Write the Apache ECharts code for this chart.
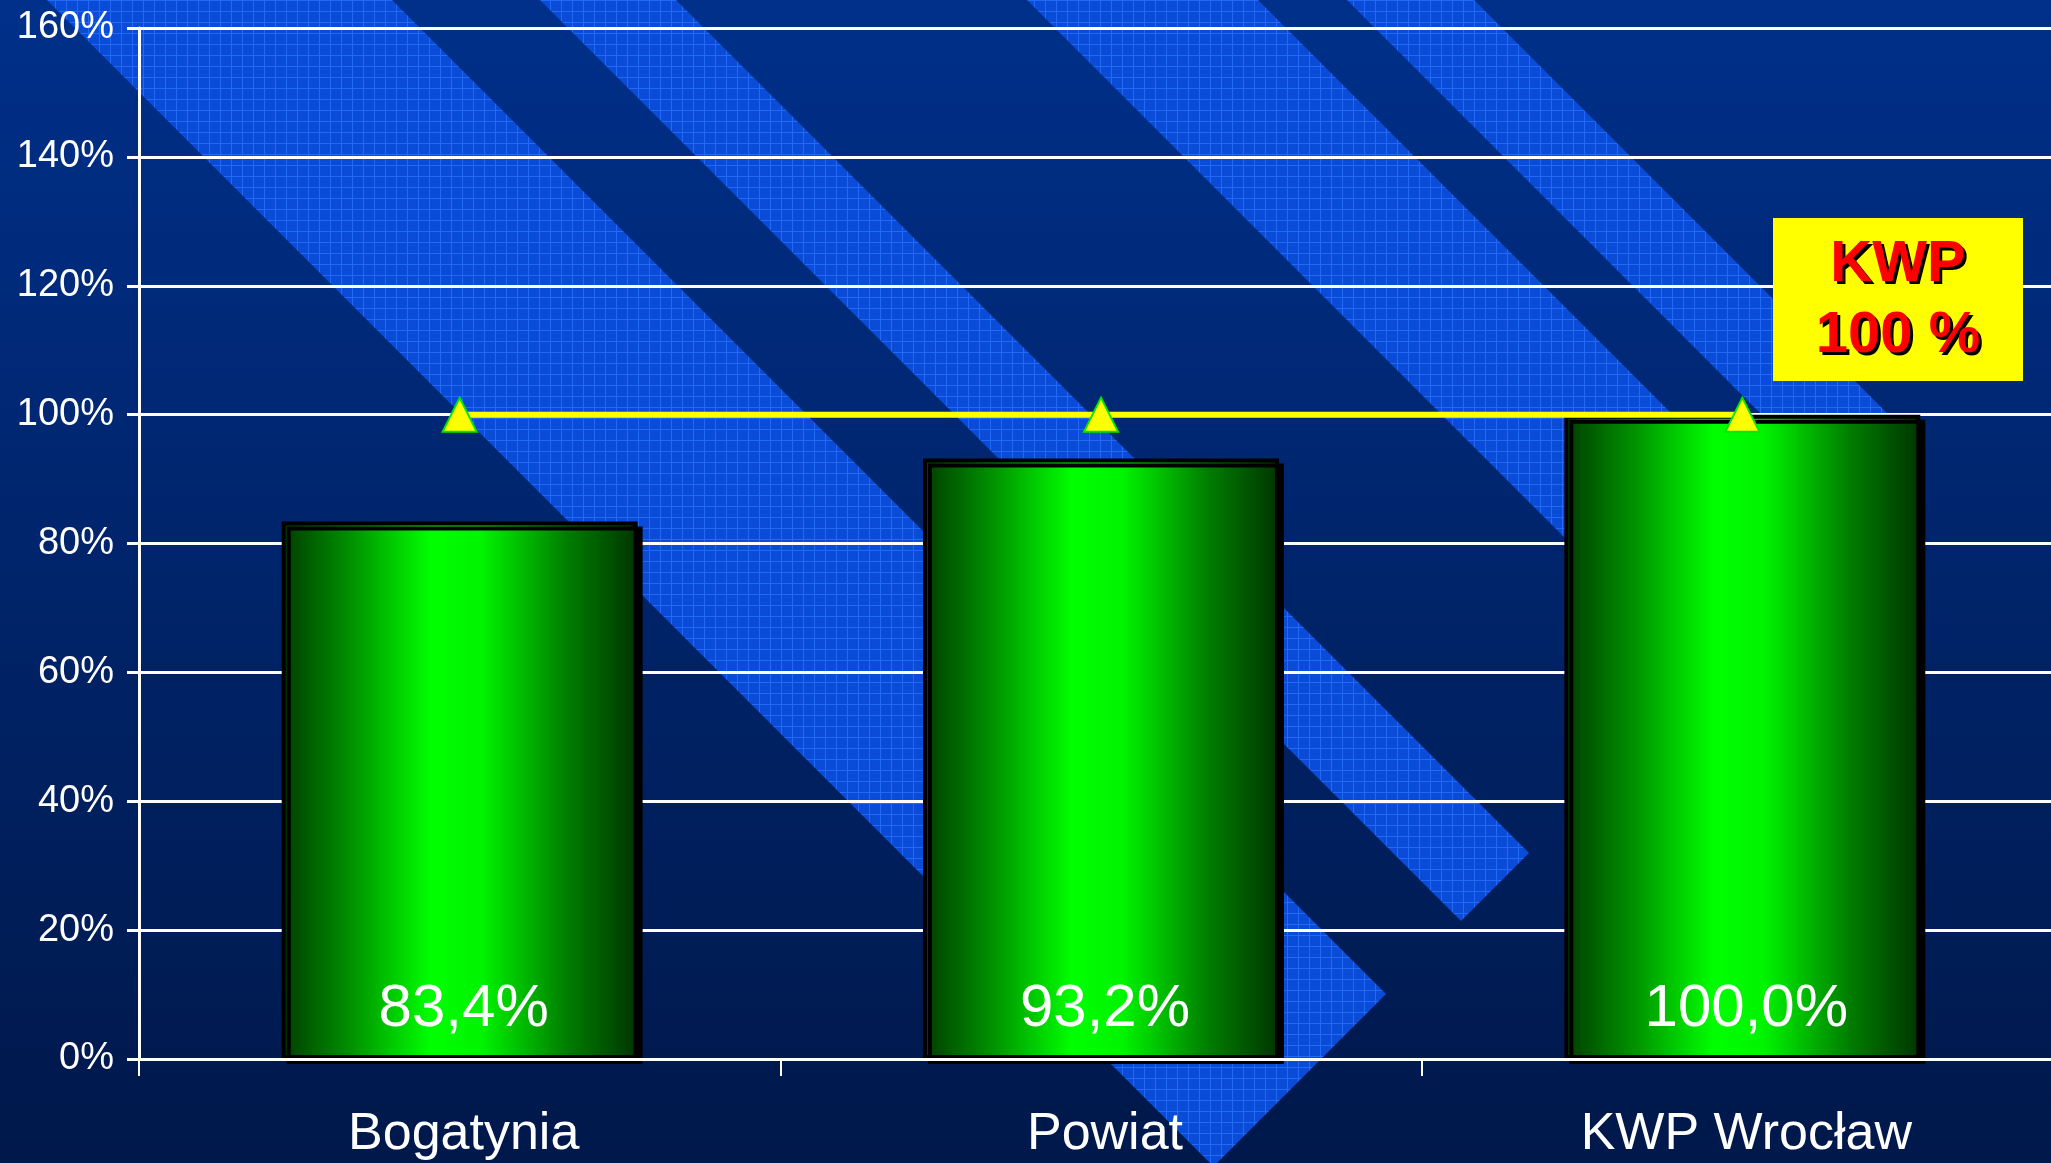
<!DOCTYPE html>
<html>
<head>
<meta charset="utf-8">
<script src="https://cdn.jsdelivr.net/npm/echarts@6/dist/echarts.min.js"></script>
<style>
html,body{margin:0;padding:0;background:#001a4e;}
#chart{width:2051px;height:1163px;}
</style>
</head>
<body>
<div id="chart"></div>
<script>
// ---- data ----
const categories = ['Bogatynia', 'Powiat', 'KWP Wrocław'];
const barValues = [83.4, 93.2, 100.0];
const targetValues = [100, 100, 100];
const yMin = 0, yMax = 160, yStep = 20;
const noteLines = ['KWP', '100 %'];

const FONT = '"Liberation Sans", Arial, sans-serif';

function makePattern() {
  const c = document.createElement('canvas');
  c.width = 11; c.height = 11;
  const g = c.getContext('2d');
  g.fillStyle = '#0a4cd8';
  g.fillRect(0, 0, 11, 11);
  g.fillStyle = '#2169f6';
  g.fillRect(0, 0, 11, 1);
  g.fillRect(0, 0, 1, 11);
  return c;
}
const pat = makePattern();

// decorative diagonal bands (45 deg): left edge x-y=a, right edge x-y=b, end cut x+y=c
const bands = [[47, 392, 2380], [540, 676, 2382], [1027, 1258, 2380], [1347, 1474, 2330]];
const bandEls = bands.map(function (abc) {
  const a = abc[0], b = abc[1], c = abc[2];
  return {
    type: 'polygon', silent: true, z: 1,
    shape: { points: [[a, 0], [b, 0], [(c + b) / 2, (c - b) / 2], [(c + a) / 2, (c - a) / 2]] },
    style: { fill: { image: pat, repeat: 'repeat' } }
  };
});

const chart = echarts.init(document.getElementById('chart'), null, { renderer: 'canvas' });

const option = {
  animation: false,
  textStyle: { fontFamily: FONT },
  graphic: [
    {
      type: 'rect', silent: true, z: 0,
      shape: { x: 0, y: 0, width: 2051, height: 1163 },
      style: {
        fill: new echarts.graphic.LinearGradient(0, 0, 0, 1, [
          { offset: 0, color: '#00308a' },
          { offset: 1, color: '#00184a' }
        ])
      }
    }
  ].concat(bandEls).concat([
    {
      type: 'rect', silent: true, z: 10,
      shape: { x: 1773, y: 218, width: 250, height: 163 },
      style: { fill: '#ffff00' }
    },
    { type: 'text', silent: true, z: 11, x: 1901, y: 268,
      style: { text: noteLines[0], fill: '#000000', font: 'bold 58px ' + FONT, align: 'center', verticalAlign: 'middle' } },
    { type: 'text', silent: true, z: 12, x: 1898, y: 265,
      style: { text: noteLines[0], fill: '#ff0000', font: 'bold 58px ' + FONT, align: 'center', verticalAlign: 'middle' } },
    { type: 'text', silent: true, z: 11, x: 1901, y: 339,
      style: { text: noteLines[1], fill: '#000000', font: 'bold 58px ' + FONT, align: 'center', verticalAlign: 'middle' } },
    { type: 'text', silent: true, z: 12, x: 1898, y: 336,
      style: { text: noteLines[1], fill: '#ff0000', font: 'bold 58px ' + FONT, align: 'center', verticalAlign: 'middle' } }
  ]),
  grid: { left: 139, top: 28, bottom: 104, width: 1924, containLabel: false, outerBoundsMode: 'none' },
  xAxis: {
    type: 'category',
    data: categories,
    z: 5,
    boundaryGap: true,
    axisLine: { show: true, lineStyle: { color: '#ffffff', width: 3 } },
    axisTick: { show: true, length: 17, lineStyle: { color: '#ffffff', width: 2 } },
    axisLabel: { color: '#ffffff', fontSize: 52, fontFamily: FONT, margin: 50, padding: [0, 0, 0, 8] },
    splitLine: { show: false }
  },
  yAxis: {
    type: 'value',
    min: yMin, max: yMax, interval: yStep,
    z: 2,
    axisLine: { show: true, lineStyle: { color: '#ffffff', width: 3 } },
    axisTick: { show: true, length: 12, lineStyle: { color: '#ffffff', width: 3 } },
    axisLabel: { color: '#ffffff', fontSize: 38, fontFamily: FONT, margin: 25, formatter: '{value}%' },
    splitLine: { show: true, lineStyle: { color: '#ffffff', width: 3 } }
  },
  series: [
    {
      type: 'bar',
      data: barValues,
      z: 3,
      barWidth: '55.5%',
      itemStyle: {
        color: new echarts.graphic.LinearGradient(0, 0, 1, 0, [
          { offset: 0, color: '#003c00' },
          { offset: 0.2, color: '#009400' },
          { offset: 0.42, color: '#00ff00' },
          { offset: 0.56, color: '#00f400' },
          { offset: 0.8, color: '#007e00' },
          { offset: 1, color: '#003400' }
        ]),
        borderColor: '#000000',
        borderWidth: 4,
        shadowColor: '#000000',
        shadowOffsetX: 5,
        shadowOffsetY: 5,
        shadowBlur: 0
      },
      label: {
        show: true,
        position: 'insideBottom',
        distance: 20,
        offset: [4, 0],
        color: '#ffffff',
        fontSize: 60,
        fontFamily: FONT,
        formatter: function (p) { return p.value.toFixed(1).replace('.', ',') + '%'; }
      }
    },
    {
      type: 'line',
      data: targetValues,
      z: 4,
      symbol: 'triangle',
      symbolSize: 34,
      lineStyle: { color: '#ffff00', width: 6 },
      itemStyle: { color: '#ffff00', borderColor: '#00e600', borderWidth: 2 }
    }
  ]
};
chart.setOption(option);
</script>
</body>
</html>
